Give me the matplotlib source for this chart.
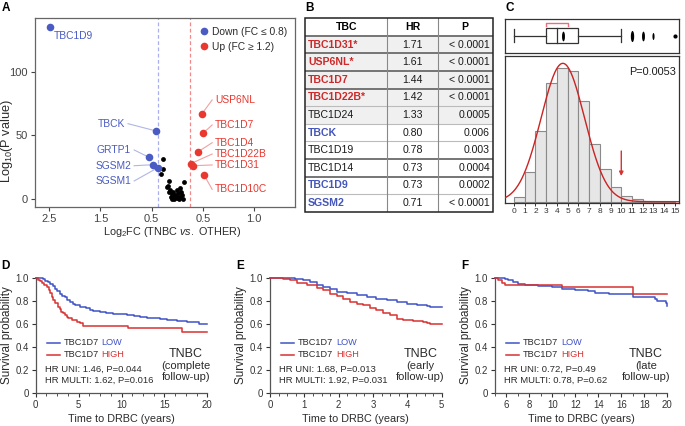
import numpy as np
import matplotlib
matplotlib.use("Agg")
import matplotlib.pyplot as plt
from matplotlib.path import Path
from matplotlib.transforms import Affine2D
from matplotlib.ticker import AutoMinorLocator, MultipleLocator

plt.rcParams['font.family'] = ['Liberation Sans', 'DejaVu Sans']
plt.rcParams['mathtext.fontset'] = 'custom'
plt.rcParams['mathtext.rm'] = 'Liberation Sans'
plt.rcParams['mathtext.it'] = 'Liberation Sans:italic'

# ---------------- DATA ----------------
# Panel A (volcano)
vol_down_names = ['TBC1D9', 'TBCK', 'GRTP1', 'SGSM2', 'SGSM1']
vol_down_x = [-2.48, -0.41, -0.55, -0.47, -0.38]
vol_down_y = [135.2, 53.5, 32.8, 27.0, 24.6]
vol_up_names = ['USP6NL', 'TBC1D7', 'TBC1D4', 'TBC1D22B', 'TBC1D31', 'TBC1D10C']
vol_up_x = [0.48, 0.50, 0.41, 0.26, 0.31, 0.52]
vol_up_y = [67.0, 51.7, 37.3, 27.8, 26.2, 19.1]
vol_other_x = [-0.27, -0.28, -0.31, -0.155, 0.137, -0.174, -0.141, -0.089, -0.011, 0.054,
               0.073, -0.044, -0.077, -0.011, 0.054, 0.087, -0.108, 0.020, -0.058, -0.128,
               0.106, -0.194, -0.155, 0.020, -0.005, 0.034, -0.102]
vol_other_y = [31.2, 23.4, 19.4, 14.2, 13.6, 10.2, 7.1, 5.7, 7.1, 8.4,
               5.7, 3.1, 1.8, 0.6, 1.3, 3.1, 3.9, 4.5, 0.0, 1.8,
               -0.2, 9.7, 5.7, 1.8, 1.6, 0.0, 0.0]
vol_xtick_pos = [-2.5, -1.5, -0.5, 0.5, 1.5]
vol_xtick_labels = ['2.5', '1.5', '0.5', '0.5', '1.0']
vol_ytick = [0, 50, 100]
thr_down = -0.38
thr_up = 0.25

# Panel B (table)
tbl_names = ['TBC1D31*', 'USP6NL*', 'TBC1D7', 'TBC1D22B*', 'TBC1D24',
             'TBCK', 'TBC1D19', 'TBC1D14', 'TBC1D9', 'SGSM2']
tbl_hr = ['1.71', '1.61', '1.44', '1.42', '1.33', '0.80', '0.78', '0.73', '0.73', '0.71']
tbl_p = ['< 0.0001', '< 0.0001', '< 0.0001', '< 0.0001', '0.0005',
         '0.006', '0.003', '0.0004', '0.0002', '< 0.0001']
tbl_group = ['up', 'up', 'up', 'up', 'none', 'down', 'none', 'none', 'down', 'down']

# Panel C (histogram + boxplot)
hist_edges = list(range(0, 16))
hist_heights = [15, 88, 212, 355, 400, 392, 302, 172, 97, 45, 17, 8, 3, 1.5, 1]
fit_mean, fit_sd, fit_peak = 4.55, 2.02, 415
box_stats = dict(whislo=0, q1=3, med=4, q3=6, whishi=10, mean=4.54)
box_fliers = [11, 12, 13, 15]
bracket_lo, bracket_hi = 3, 5
arrow_x = 10
p_text_c = 'P=0.0053'

# Panel D-F (Kaplan-Meier)
km_d_low_t = [0, 0.8, 1.1, 1.4, 1.67, 2.0, 2.25, 2.5, 2.83, 3.1, 3.4, 3.7, 4.0, 4.3, 4.6, 5.2,
              5.9, 6.3, 6.7, 7.5, 8.2, 9.05, 10.6, 11.5, 12.2, 13.0, 13.7, 14.5, 15.3, 16.5,
              17.6, 18.5, 19.0, 20.0]
km_d_low_s = [1.0, 0.99, 0.975, 0.96, 0.945, 0.925, 0.905, 0.885, 0.86, 0.845, 0.83, 0.805, 0.785,
              0.772, 0.76, 0.746, 0.733, 0.72, 0.71, 0.698, 0.69, 0.682, 0.672, 0.665, 0.66, 0.653,
              0.646, 0.64, 0.633, 0.626, 0.618, 0.612, 0.598, 0.598]
km_d_high_t = [0, 0.3, 0.5, 0.7, 1.0, 1.28, 1.5, 1.67, 1.85, 2.06, 2.3, 2.64, 2.8, 3.0, 3.2,
               3.4, 3.6, 3.8, 4.2, 4.8, 5.2, 5.55, 10.7, 17.0, 20.0]
km_d_high_s = [1.0, 0.98, 0.97, 0.95, 0.935, 0.92, 0.89, 0.864, 0.835, 0.806, 0.78, 0.748, 0.725,
               0.704, 0.69, 0.675, 0.66, 0.646, 0.632, 0.617, 0.603, 0.578, 0.56, 0.524, 0.524]
km_e_low_t = [0, 0.73, 0.97, 1.17, 1.36, 1.55, 1.75, 1.94, 2.23, 2.52, 2.82, 3.1, 3.4, 3.7,
              3.98, 4.27, 4.56, 4.66, 5.0]
km_e_low_s = [1.0, 0.99, 0.977, 0.962, 0.94, 0.92, 0.9, 0.88, 0.867, 0.853, 0.832, 0.818, 0.81,
              0.79, 0.775, 0.766, 0.754, 0.746, 0.746]
km_e_high_t = [0, 0.39, 0.58, 0.78, 1.07, 1.36, 1.55, 1.75, 1.94, 2.14, 2.33, 2.52, 2.72, 2.91,
               3.1, 3.3, 3.5, 3.69, 3.88, 4.17, 4.47, 4.56, 4.66, 5.0]
km_e_high_s = [1.0, 0.99, 0.983, 0.957, 0.934, 0.91, 0.89, 0.861, 0.838, 0.812, 0.789, 0.775,
               0.76, 0.737, 0.717, 0.697, 0.679, 0.645, 0.63, 0.624, 0.616, 0.61, 0.601, 0.601]
km_f_low_t = [5.0, 5.9, 6.16, 6.6, 7.03, 7.6, 8.77, 9.93, 10.8, 11.96, 13.1, 13.7, 14.9, 17.04,
              18.9, 19.07, 19.85, 20.0]
km_f_low_s = [1.0, 0.99, 0.983, 0.962, 0.948, 0.934, 0.925, 0.916, 0.905, 0.896, 0.884, 0.87,
              0.855, 0.832, 0.818, 0.795, 0.783, 0.75]
km_f_high_t = [5.0, 5.29, 5.58, 5.87, 10.8, 17.04, 20.0]
km_f_high_s = [1.0, 0.983, 0.957, 0.934, 0.919, 0.855, 0.855]

km_hr_text = {
    'D': ('HR UNI: 1.46, P=0.044', 'HR MULTI: 1.62, P=0.016', '(complete'),
    'E': ('HR UNI: 1.68, P=0.013', 'HR MULTI: 1.92, P=0.031', '(early'),
    'F': ('HR UNI: 0.72, P=0.49', 'HR MULTI: 0.78, P=0.62', '(late'),
}

# ---------------- STYLE ----------------
BLUE_A = '#4a5bc4'
RED_A = '#e8382f'
BLUE = '#3f52c6'
RED = '#d83232'
TXT = '#2b2b2b'
SPINE = '#555555'

W, H = 685, 426
fig = plt.figure(figsize=(W / 100, H / 100), dpi=100)


def axpx(l, t, r, b):
    return fig.add_axes([l / W, 1 - b / H, (r - l) / W, (b - t) / H])


def letter(x, y, s):
    fig.text(x / W, 1 - y / H, s, fontsize=8.5, fontweight='bold', va='top', ha='left')


# ---------------- PANEL A ----------------
axA = axpx(35, 18, 295, 207)
axA.set_xlim(-2.773, 2.295)
axA.set_ylim(-6.3, 142.5)
for s in axA.spines.values():
    s.set_color('#666666')
    s.set_linewidth(0.9)
axA.axvline(thr_down, color='#aab0ee', ls=(0, (3, 2)), lw=0.9, zorder=1)
axA.axvline(thr_up, color='#f08a8a', ls=(0, (3, 2)), lw=0.9, zorder=1)
axA.scatter(vol_other_x, vol_other_y, s=12, color='black', zorder=3, linewidths=0)
axA.scatter(vol_down_x, vol_down_y, s=30, color=BLUE_A, zorder=4, linewidths=0)
axA.scatter(vol_up_x, vol_up_y, s=30, color=RED_A, zorder=4, linewidths=0)

# label layout (data coords of label anchor)
down_lab_pos = [(-2.40, 128.3, 'left'), (-1.02, 59.3, 'right'), (-0.90, 38.6, 'right'),
                (-0.90, 26.2, 'right'), (-0.90, 14.2, 'right')]
for name, px, py, (lx, ly, ha) in zip(vol_down_names, vol_down_x, vol_down_y, down_lab_pos):
    axA.text(lx, ly, name, color=BLUE_A, fontsize=7.4, ha=ha, va='center')
    if ha == 'right':
        axA.plot([lx + 0.06, px], [ly, py], color='#b0b6e6', lw=0.8, zorder=2)
up_lab_y = [78, 58.3, 44.3, 35.4, 26.8, 7.6]
up_lab_x = 0.74
for name, px, py, ly in zip(vol_up_names, vol_up_x, vol_up_y, up_lab_y):
    axA.text(up_lab_x, ly, name, color=RED_A, fontsize=7.4, ha='left', va='center')
    axA.plot([px, up_lab_x - 0.06], [py, ly], color='#f2a0a0', lw=0.8, zorder=2)

axA.set_xticks(vol_xtick_pos)
axA.set_xticklabels(vol_xtick_labels)
axA.set_yticks(vol_ytick)
axA.tick_params(labelsize=8.0, colors='#444444', length=3, width=0.8, pad=2)
axA.set_xlabel(r'Log$_2$FC (TNBC $\it{vs.}$ OTHER)', fontsize=7.8, color=TXT)
axA.xaxis.set_label_coords(0.527, -0.095)
axA.set_ylabel(r'Log$_{10}$(P value)', fontsize=9.2, color=TXT)
axA.yaxis.set_label_coords(-0.076, 0.35)
hd, = axA.plot([], [], 'o', color=BLUE_A, ms=5.5, mew=0)
hu, = axA.plot([], [], 'o', color=RED_A, ms=5.5, mew=0)
axA.legend([hd, hu], ['Down (FC \u2264 0.8)', 'Up (FC \u2265 1.2)'], loc='upper left',
           bbox_to_anchor=(0.61, 0.975), frameon=False, fontsize=7.4, handletextpad=0.15,
           labelspacing=0.5, borderaxespad=0, handlelength=1.2, labelcolor=TXT)

# ---------------- PANEL B ----------------
axB = axpx(305, 18.3, 492.7, 211.7)
axB.set_xlim(0, 1)
axB.set_ylim(11, 0)
axB.axis('off')
c1, c2 = 0.4385, 0.707
for i in range(10):
    if i < 5:
        axB.add_patch(plt.Rectangle((0, i + 1), 1, 1, color='#f0f0f0', zorder=0, lw=0))
dark_after = {1, 2, 3, 4, 8, 9}
for i in range(1, 11):
    if i in dark_after:
        axB.plot([0, 1], [i, i], color='#6a6a6a', lw=1.3, zorder=2, solid_capstyle='butt')
    else:
        axB.plot([0, 1], [i, i], color='#bbbbbb', lw=0.8, zorder=2, solid_capstyle='butt')
for cx in (c1, c2):
    axB.plot([cx, cx], [0, 11], color='#888888', lw=0.8, zorder=2)
axB.add_patch(plt.Rectangle((0, 0), 1, 11, fill=False, ec='#222222', lw=1.1, zorder=3,
                            clip_on=False))
axB.text(c1 / 2, 0.5, 'TBC', fontsize=7.6, fontweight='bold', ha='center', va='center')
axB.text((c1 + c2) / 2, 0.5, 'HR', fontsize=7.6, fontweight='bold', ha='center', va='center')
axB.text((c2 + 1) / 2, 0.5, 'P', fontsize=7.6, fontweight='bold', ha='center', va='center')
gcol = {'up': '#cc2a2a', 'down': '#4455bb', 'none': '#1a1a1a'}
for i, (n, hr, p, g) in enumerate(zip(tbl_names, tbl_hr, tbl_p, tbl_group)):
    y = i + 1.5
    axB.text(0.016, y, n, fontsize=7.6, color=gcol[g],
             fontweight='bold' if g != 'none' else 'normal', ha='left', va='center')
    axB.text((c1 + c2) / 2, y, hr, fontsize=7.6, color='#1a1a1a', ha='center', va='center')
    axB.text(0.985, y, p, fontsize=7.6, color='#1a1a1a', ha='right', va='center')

# ---------------- PANEL C ----------------
xl_c = (-0.84, 15.38)
axCb = axpx(505, 19, 679, 52.7)
axCb.set_xlim(*xl_c)
axCb.set_ylim(0, 1)
axCb.set_xticks([])
axCb.set_yticks([])
for s in axCb.spines.values():
    s.set_color('#333333')
    s.set_linewidth(0.9)
bc = '#333333'
axCb.add_patch(plt.Rectangle((box_stats['q1'], 0.297), box_stats['q3'] - box_stats['q1'], 0.427,
                             fill=False, ec=bc, lw=0.9))
axCb.plot([box_stats['med']] * 2, [0.297, 0.724], color=bc, lw=0.9)
axCb.plot([box_stats['whislo'], box_stats['q1']], [0.51, 0.51], color=bc, lw=0.9)
axCb.plot([box_stats['q3'], box_stats['whishi']], [0.51, 0.51], color=bc, lw=0.9)
for wx in (box_stats['whislo'], box_stats['whishi']):
    axCb.plot([wx, wx], [0.326, 0.694], color=bc, lw=0.9)
ell = Path.unit_circle().transformed(Affine2D().scale(0.3, 1.0))
axCb.plot([box_stats['mean']], [0.51], marker=ell, ms=7, color='black', mew=0)
flier_ms = [8, 7, 5, 3]
for fx, ms in zip(box_fliers, flier_ms):
    mk = ell if ms > 3 else 'o'
    axCb.plot([fx], [0.51], marker=mk, ms=ms, color='black', mew=0, ls='none')
axCb.plot([bracket_lo, bracket_lo, bracket_hi, bracket_hi], [0.79, 0.872, 0.872, 0.79],
          color='#e8707c', lw=1.0)

axCh = axpx(505, 56, 679, 202.7)
axCh.set_xlim(*xl_c)
axCh.set_ylim(-3, 437)
axCh.bar(hist_edges[:-1], hist_heights, width=1, align='edge', color='#e6e6e6',
         edgecolor='#8a8a8a', lw=0.8, zorder=2)
xs = np.linspace(xl_c[0], xl_c[1], 400)
axCh.plot(xs, fit_peak * np.exp(-0.5 * ((xs - fit_mean) / fit_sd) ** 2), color='#cc2222',
          lw=1.0, zorder=3)
axCh.annotate('', xy=(arrow_x, 77), xytext=(arrow_x, 152),
              arrowprops=dict(arrowstyle='-|>', color='#d83232', lw=1.0,
                              mutation_scale=6, shrinkA=0, shrinkB=0), zorder=4)
axCh.text(0.985, 0.893, p_text_c, transform=axCh.transAxes, fontsize=7.8, ha='right',
          va='center', color='#1a1a1a')
axCh.set_xticks(hist_edges)
axCh.set_yticks([])
axCh.tick_params(labelsize=6, length=2.5, width=0.7, pad=1.5, colors='#333333')
for s in axCh.spines.values():
    s.set_color('#333333')
    s.set_linewidth(0.9)


# ---------------- PANELS D-F ----------------
def km_panel(l, r, xlim, xmaj, xmin_div, low, high, key, xticks_show=None):
    ax = axpx(l, 277.7, r, 392.7)
    ax.set_xlim(*xlim)
    ax.set_ylim(0, 1)
    for s in ('top', 'right'):
        ax.spines[s].set_visible(False)
    for s in ('left', 'bottom'):
        ax.spines[s].set_color(SPINE)
        ax.spines[s].set_linewidth(0.9)
    ax.step(low[0], low[1], where='post', color=BLUE, lw=1.1, clip_on=False, zorder=3)
    ax.step(high[0], high[1], where='post', color=RED, lw=1.1, clip_on=False, zorder=3)
    ax.xaxis.set_major_locator(MultipleLocator(xmaj))
    ax.xaxis.set_minor_locator(AutoMinorLocator(xmin_div))
    if xticks_show is not None:
        ax.set_xticks(xticks_show)
    ax.set_yticks([0, 0.2, 0.4, 0.6, 0.8, 1.0])
    ax.set_yticklabels(['0', '0.2', '0.4', '0.6', '0.8', '1.0'])
    ax.tick_params(which='major', labelsize=6.9, length=3, width=0.8, pad=2,
                   colors='#333333')
    ax.tick_params(which='minor', length=1.8, width=0.6, colors='#333333')
    ax.set_ylabel('Survival probability', fontsize=8.4, color=TXT, labelpad=2)
    ax.set_xlabel('Time to DRBC (years)', fontsize=7.8, color=TXT, labelpad=3)
    # legend lines with two-color text
    for yy, col, word in ((0.435, BLUE, 'LOW'), (0.328, RED, 'HIGH')):
        ax.plot([0.064, 0.141], [yy, yy], transform=ax.transAxes, color=col, lw=1.1)
        t1 = ax.text(0.161, yy, 'TBC1D7', transform=ax.transAxes, fontsize=6.6, color=TXT,
                     va='center', ha='left')
        ax.annotate(word, xy=(1, 0.5), xycoords=t1, xytext=(2.2, 0), textcoords='offset points',
                    fontsize=6.6, color=col, va='center', ha='left')
    hr1, hr2, sub = km_hr_text[key]
    ax.text(0.054, 0.206, hr1, transform=ax.transAxes, fontsize=6.8, color=TXT, va='center')
    ax.text(0.054, 0.11, hr2, transform=ax.transAxes, fontsize=6.8, color=TXT, va='center')
    for yy, s in ((0.334, 'TNBC'), (0.232, sub), (0.134, 'follow-up)')):
        ax.text(0.875, yy, s, transform=ax.transAxes, fontsize=9.0 if s == 'TNBC' else 8.0,
                color=TXT, va='center', ha='center')
    return ax


km_panel(35.7, 207.3, (0, 20), 5, 4, (km_d_low_t, km_d_low_s), (km_d_high_t, km_d_high_s), 'D')
km_panel(270, 441.7, (0, 5), 1, 4, (km_e_low_t, km_e_low_s), (km_e_high_t, km_e_high_s), 'E')
km_panel(495, 667.3, (5, 20), 2, 2, (km_f_low_t, km_f_low_s), (km_f_high_t, km_f_high_s), 'F',
         xticks_show=[6, 8, 10, 12, 14, 16, 18, 20])

letter(2, 2, 'A')
letter(305, 2, 'B')
letter(505, 2, 'C')
letter(1, 260, 'D')
letter(236, 260, 'E')
letter(461, 260, 'F')

fig.savefig('out.png', dpi=100)
